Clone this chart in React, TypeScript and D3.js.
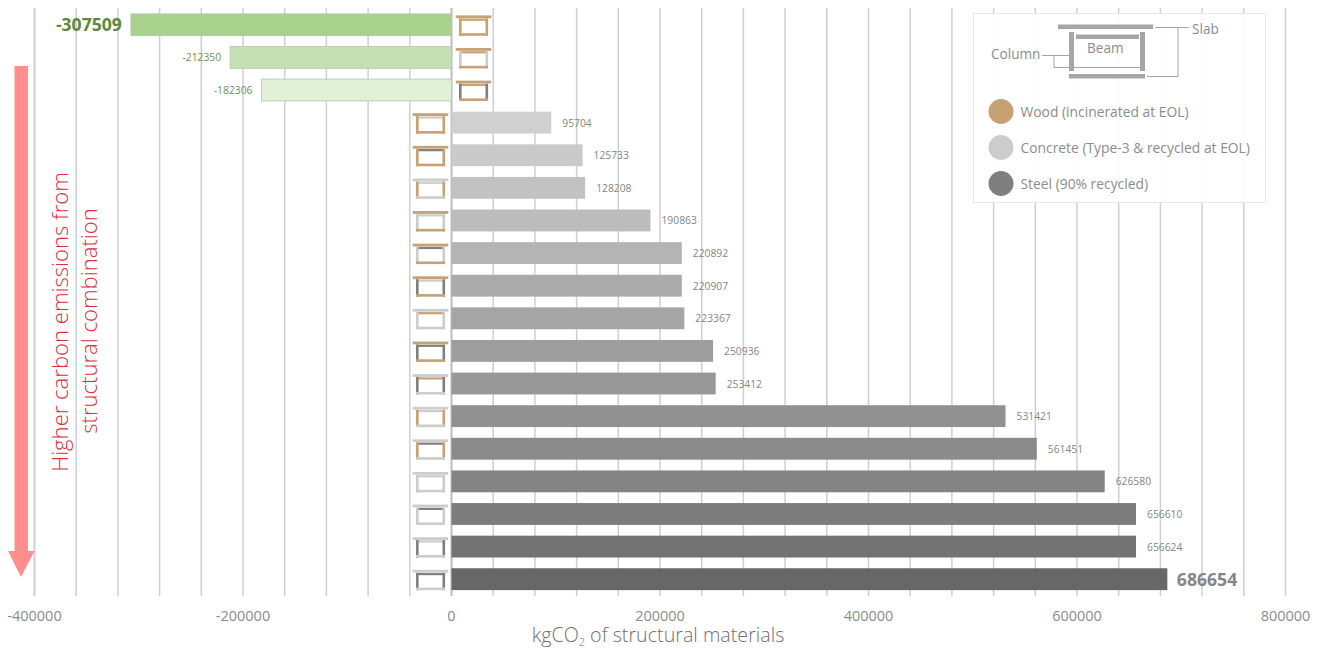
import React from "react";
import * as d3 from "d3";

const WOOD = "#c6a173";
const CONC = "#cdcccc";
const STEEL = "#7f7f7f";

const width = 1325;
const height = 649;

const emissions = [-307509, -212350, -182306, 95704, 125733, 128208, 190863, 220892, 220907, 223367, 250936, 253412, 531421, 561451, 626580, 656610, 656624, 686654];
const barColors = ["#a9d18e", "#c5e0b4", "#e2f0d9", "#d0d0d0", "#cacaca", "#c2c2c2", "#bcbcbc", "#b4b4b4", "#ababab", "#a5a5a5", "#9e9e9e", "#989898", "#919191", "#8b8b8b", "#848484", "#7d7d7d", "#737373", "#676767"];
const slabMaterial = [WOOD, WOOD, WOOD, WOOD, WOOD, CONC, WOOD, WOOD, WOOD, CONC, WOOD, CONC, CONC, CONC, CONC, CONC, CONC, CONC];
const beamMaterial = [WOOD, WOOD, WOOD, CONC, STEEL, CONC, CONC, STEEL, CONC, WOOD, STEEL, WOOD, CONC, STEEL, CONC, STEEL, CONC, STEEL];
const columnMaterial = [WOOD, CONC, STEEL, WOOD, WOOD, WOOD, CONC, CONC, STEEL, CONC, STEEL, STEEL, WOOD, WOOD, CONC, CONC, STEEL, STEEL];
const axisTicks = [-400000, -200000, 0, 200000, 400000, 600000, 800000];
const gridTicks = d3.range(-400000, 800001, 40000);
const legendItems = [
  { label: "Wood (incinerated at EOL)", color: WOOD },
  { label: "Concrete (Type-3 & recycled at EOL)", color: CONC },
  { label: "Steel (90% recycled)", color: STEEL },
];

const font = "'Open Sans', 'Noto Sans', sans-serif";

const x = d3.scaleLinear().domain([-400000, 800000]).range([34.5, 1285.5]);
const y = d3.scaleBand<number>().domain(d3.range(emissions.length)).range([8.5, 595.5]).paddingInner(0.33).paddingOuter(0.165);

// Small section drawing: slab on top, beam beneath it, two columns, slab below.
function FrameIcon({ cx, cy, slab, beam, column }: { cx: number; cy: number; slab: string; beam: string; column: string }) {
  return (
    <g transform={`translate(${cx},${cy})`}>
      <rect x={-12.5} y={-6.2} width={25} height={2.2} fill={beam} />
      <rect x={-14.5} y={-6.5} width={2.6} height={17.5} fill={column} />
      <rect x={12} y={-6.5} width={2.6} height={17.5} fill={column} />
      <rect x={-14.5} y={8.4} width={29} height={2.6} fill={slab} />
      <rect x={-17.8} y={-9.4} width={35.6} height={2.8} fill={slab} />
    </g>
  );
}

export default function App() {
  const x0 = x(0);
  return (
    <svg width={width} height={height} style={{ position: "absolute", left: 0, top: 0, background: "#fff" }} fontFamily={font}>
      {/* vertical gridlines */}
      {gridTicks.map((t) => (
        <line key={t} x1={x(t)} x2={x(t)} y1={8} y2={596} stroke={t === 0 ? "#bdbdbd" : "#cfcfcf"} strokeWidth={t === 0 || t === -400000 ? 2 : 1.5} />
      ))}

      {/* bars, value labels and section icons */}
      {emissions.map((v, i) => {
        const by = y(i)!;
        const bh = y.bandwidth();
        const cy = by + bh / 2;
        const neg = v < 0;
        const left = Math.min(x(v), x0);
        const w = Math.abs(x(v) - x0);
        const big = i === 0 || i === emissions.length - 1;
        const labelColor = neg ? (big ? "#5c8a3c" : "#6f8f58") : "#858585";
        return (
          <g key={i}>
            <rect x={left} y={by} width={w} height={bh} fill={barColors[i]} stroke={neg ? "#b8c4ae" : "none"} strokeWidth={0.8} />
            <text
              x={neg ? x(v) - 9 : x(v) + (big ? 9.5 : 11)}
              y={cy + (big ? 6.5 : 4)}
              textAnchor={neg ? "end" : "start"}
              fontSize={big ? 17.6 : 10.3}
              fontWeight={big ? 700 : 400}
              fill={labelColor}
            >
              {v}
            </text>
            <FrameIcon cx={neg ? x0 + 22 : x0 - 21} cy={cy} slab={slabMaterial[i]} beam={beamMaterial[i]} column={columnMaterial[i]} />
          </g>
        );
      })}

      {/* value axis labels and title */}
      {axisTicks.map((t) => (
        <text key={t} x={x(t)} y={621} textAnchor="middle" fontSize={14.5} fill="#8c8c8c">{t}</text>
      ))}
      <text x={658} y={642} textAnchor="middle" fontSize={19.7} fontWeight={300} fill="#707070">
        kgCO<tspan fontSize={11} dy={4}>2</tspan><tspan dy={-4}> of structural materials</tspan>
      </text>

      {/* direction arrow with its caption */}
      <path d="M14.5,66 H28 V551 H34.5 L21,577 L8,551 H14.5 Z" fill="#ff8f8f" />
      <text transform="translate(68,322) rotate(-90)" textAnchor="middle" fontSize={22.1} fontWeight={300} fill="#d9303c">Higher carbon emissions from</text>
      <text transform="translate(97,321) rotate(-90)" textAnchor="middle" fontSize={22.1} fontWeight={300} fill="#d9303c">structural combination</text>

      {/* legend panel */}
      <rect x={973.5} y={13.5} width={292} height={189} fill="#ffffff" fillOpacity={0.92} stroke="#e6e6e6" />
      <g fill="#a6a6a6">
        <rect x={1058} y={24.5} width={95} height={4.5} />
        <rect x={1076} y={34.5} width={63} height={4.5} />
        <rect x={1069} y={32} width={5} height={39} />
        <rect x={1140} y={32} width={5} height={39} />
        <rect x={1069} y={74} width={76} height={4.5} />
      </g>
      <g fill="none" stroke="#a6a6a6" strokeWidth={1}>
        <path d="M1042,55.5 H1069" />
        <path d="M1054,55.5 V67.5 H1140" />
        <path d="M1155,27.5 H1189" />
        <path d="M1178,27.5 V76.5 H1147" />
      </g>
      <text x={991} y={59} fontSize={13.6} fill="#8c8c8c">Column</text>
      <text x={1087} y={53} fontSize={13.6} fill="#8c8c8c">Beam</text>
      <text x={1192} y={33.5} fontSize={13.6} fill="#8c8c8c">Slab</text>
      {legendItems.map((d, i) => (
        <g key={d.label}>
          <circle cx={1001} cy={111.5 + i * 36} r={12.5} fill={d.color} />
          <text x={1020.5} y={116.5 + i * 36} fontSize={13.85} fill="#8c8c8c">{d.label}</text>
        </g>
      ))}
    </svg>
  );
}
